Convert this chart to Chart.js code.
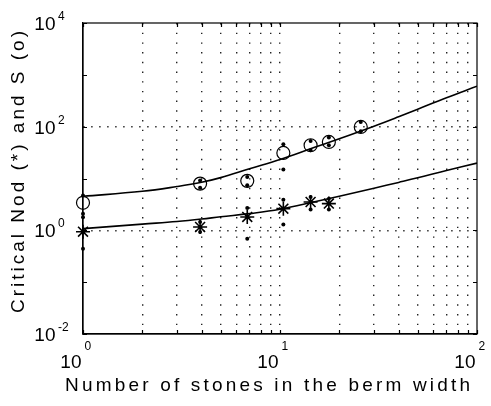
<!DOCTYPE html>
<html>
<head>
<meta charset="utf-8">
<script src="https://cdn.jsdelivr.net/npm/chart.js@4.4.0/dist/chart.umd.min.js"></script>
<style>
  html, body { margin: 0; padding: 0; background: #fff; }
  #wrap { width: 491px; height: 406px; }
</style>
</head>
<body>
<div id="wrap"><canvas id="chart" width="491" height="406"></canvas></div>
<script>
// S (o): measured points with their upper / lower dots
const stones = [1, 3.93, 6.82, 10.4, 14.3, 17.7, 25.7];
const sValues = [3.4, 7.97, 9.0, 31.1, 43.8, 50.7, 98.7];
const sHigh = [4.7, 9.2, 10.7, 45.7, 53.0, 61.6, 123];
const sLow = [2.1, 6.6, 7.4, 14.9, 35.0, 43.8, 81.5];

// Nod (*): measured points with their upper / lower dots
const nodStones = [1, 3.93, 6.82, 10.4, 14.3, 17.7];
const nodValues = [0.94, 1.16, 1.81, 2.62, 3.52, 3.28];
const nodHigh = [1.78, 1.45, 2.69, 3.91, 4.39, 4.09];
const nodLow = [0.44, 0.93, 0.69, 1.29, 2.51, 2.51];

// fitted curves
const fitX = [1, 2, 3, 4, 5, 7, 10, 15, 20, 30, 40, 50, 70, 100];
const fitS = [4.53, 5.66, 7.0, 8.45, 10.4, 15.4, 23.2, 40.0, 58.4, 102, 155, 217, 361, 603];
const fitNod = [1.08, 1.32, 1.48, 1.65, 1.83, 2.1, 2.55, 3.55, 4.55, 6.5, 8.4, 10.3, 14.3, 19.8];

const xTicks = [1, 2, 3, 4, 5, 6, 7, 8, 9, 10, 20, 30, 40, 50, 60, 70, 80, 90, 100];
const yTicks = [0.01, 0.1, 1, 10, 100, 1000, 10000];
const yGrid = [1, 100];
const xLabelExp = [0, 1, 2];
const yLabelExp = [-2, 0, 2, 4];
const xTitle = 'Number of stones in the berm width';
const yTitle = 'Critical Nod (*) and S (o)';

const pts = (xs, ys) => xs.map((x, i) => ({ x: x, y: ys[i] }));
const FONT = '"Liberation Sans", Arial, sans-serif';

// box, inward ticks, 10^n labels and axis titles
const frame = {
  id: 'frame',
  afterDraw(chart) {
    const { ctx, chartArea: a, scales: { x, y } } = chart;
    ctx.save();
    ctx.strokeStyle = '#000';
    ctx.lineWidth = 1.2;
    ctx.strokeRect(a.left, a.top, a.right - a.left, a.bottom - a.top);

    ctx.beginPath();
    xTicks.forEach(v => {
      const px = Math.round(x.getPixelForValue(v)) + 0.5;
      ctx.moveTo(px, a.bottom); ctx.lineTo(px, a.bottom - 4);
      ctx.moveTo(px, a.top); ctx.lineTo(px, a.top + 4);
    });
    yTicks.forEach(v => {
      const py = Math.round(y.getPixelForValue(v)) + 0.5;
      ctx.moveTo(a.left, py); ctx.lineTo(a.left + 4, py);
      ctx.moveTo(a.right, py); ctx.lineTo(a.right - 4, py);
    });
    ctx.stroke();

    ctx.fillStyle = '#000';
    ctx.textBaseline = 'alphabetic';
    xLabelExp.forEach(e => {
      const px = x.getPixelForValue(Math.pow(10, e));
      ctx.font = '19px ' + FONT;
      ctx.textAlign = 'right';
      ctx.fillText('10', px - 1.5, 368);
      ctx.font = '12px ' + FONT;
      ctx.textAlign = 'left';
      ctx.fillText(String(e), px + 1.5, 350);
    });
    yLabelExp.forEach(e => {
      const py = y.getPixelForValue(Math.pow(10, e));
      ctx.font = '19px ' + FONT;
      ctx.textAlign = 'right';
      ctx.fillText('10', 55.5, py + 7);
      ctx.font = '12px ' + FONT;
      ctx.textAlign = 'left';
      ctx.fillText(String(e), 58, py - 3);
    });

    // titles, stretched to the width they take in the plot
    ctx.font = '19px ' + FONT;
    ctx.textAlign = 'left';
    ctx.letterSpacing = '0px';
    let w = ctx.measureText(xTitle).width;
    ctx.letterSpacing = ((405 - w) / (xTitle.length - 1)) + 'px';
    ctx.fillText(xTitle, 65, 391);

    ctx.letterSpacing = '0px';
    w = ctx.measureText(yTitle).width;
    ctx.letterSpacing = ((282 - w) / (yTitle.length - 1)) + 'px';
    ctx.translate(24, 313);
    ctx.rotate(-Math.PI / 2);
    ctx.fillText(yTitle, 0, 0);
    ctx.restore();
  }
};

const dotStyle = {
  showLine: false, pointStyle: 'circle', pointRadius: 2,
  backgroundColor: '#000', borderColor: '#000', borderWidth: 0, clip: false
};

new Chart(document.getElementById('chart'), {
  type: 'scatter',
  data: {
    datasets: [
      { label: 'S fit', data: pts(fitX, fitS), showLine: true, pointRadius: 0,
        borderColor: '#000', borderWidth: 1.6, tension: 0.4 },
      { label: 'Nod fit', data: pts(fitX, fitNod), showLine: true, pointRadius: 0,
        borderColor: '#000', borderWidth: 1.6, tension: 0.4 },
      { label: 'S', data: pts(stones, sValues), pointStyle: 'circle', pointRadius: 6.5,
        borderColor: '#000', backgroundColor: 'rgba(0,0,0,0)', borderWidth: 1.2, clip: false },
      { label: 'Nod', data: pts(nodStones, nodValues), pointStyle: 'star', pointRadius: 7,
        borderColor: '#000', backgroundColor: '#000', borderWidth: 1.6, clip: false },
      Object.assign({ label: 'S high', data: pts(stones, sHigh) }, dotStyle),
      Object.assign({ label: 'S low', data: pts(stones, sLow) }, dotStyle),
      Object.assign({ label: 'Nod high', data: pts(nodStones, nodHigh) }, dotStyle),
      Object.assign({ label: 'Nod low', data: pts(nodStones, nodLow) }, dotStyle)
    ]
  },
  options: {
    responsive: false,
    animation: false,
    events: [],
    layout: { padding: { top: 23, right: 14, left: 0, bottom: 0 } },
    plugins: { legend: { display: false }, tooltip: { enabled: false } },
    scales: {
      x: {
        type: 'logarithmic', min: 1, max: 100,
        afterBuildTicks: s => { s.ticks = xTicks.map(v => ({ value: v })); },
        afterFit: s => { s.height = 72; },
        ticks: { display: false },
        grid: {
          drawTicks: false, lineWidth: 1.4,
          color: c => (c.tick && (c.tick.value === 1 || c.tick.value === 100)) ? 'rgba(0,0,0,0)' : '#222'
        },
        border: { display: true, color: '#000', width: 1.2, dash: [1.4, 8.3] }
      },
      y: {
        type: 'logarithmic', min: 0.01, max: 10000,
        afterBuildTicks: s => { s.ticks = yTicks.map(v => ({ value: v })); },
        afterFit: s => { s.width = 83; },
        ticks: { display: false },
        grid: {
          drawTicks: false, lineWidth: 1.4,
          color: c => (c.tick && yGrid.includes(c.tick.value)) ? '#222' : 'rgba(0,0,0,0)'
        },
        border: { display: true, color: '#000', width: 1.2, dash: [1.4, 6.6] }
      }
    }
  },
  plugins: [frame]
});
</script>
</body>
</html>
